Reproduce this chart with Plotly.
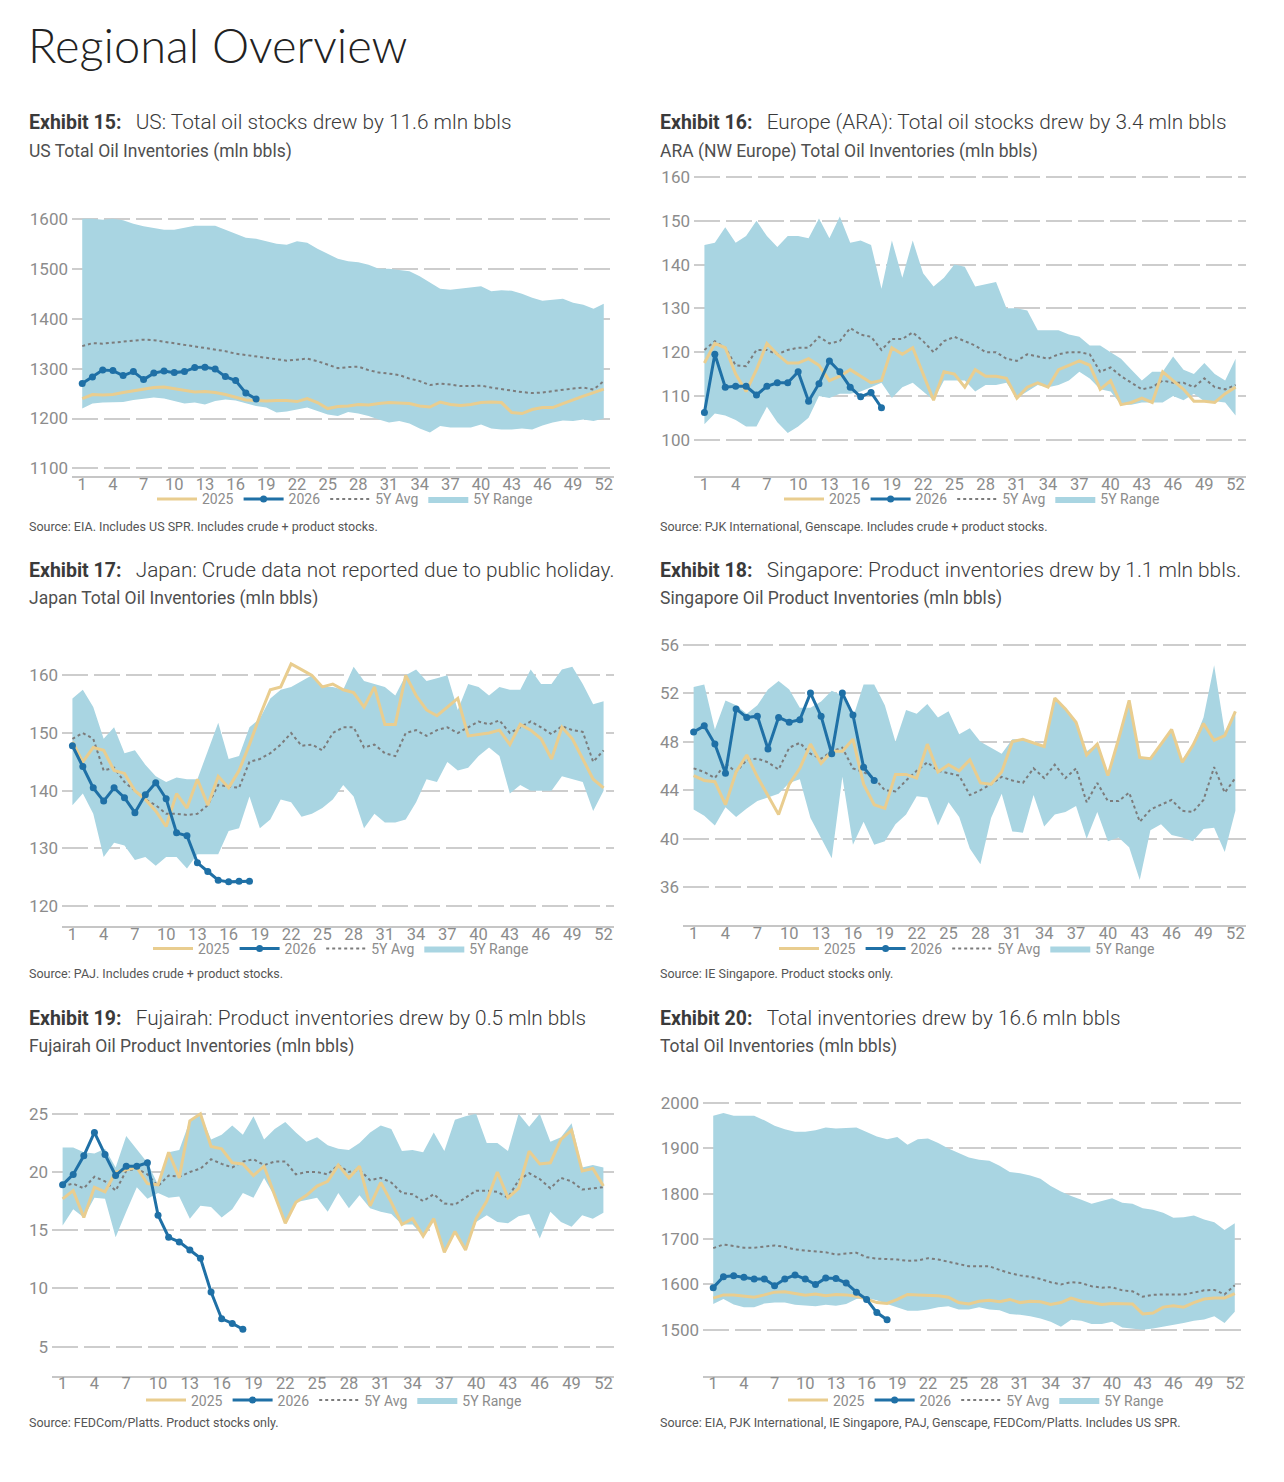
import plotly.graph_objects as go

W, H = 1284, 1482

weeks = list(range(1, 53))
weeks_2026 = list(range(1, 19))
week_ticks = list(range(1, 53, 3))

# ---------------- Exhibit 15: US ----------------
us_2025 = [1240,1248,1247,1248,1252,1255,1258,1262,1263,1260,1256,1253,1254,1252,1248,1242,1237,1236,1235,1236,
           1236,1234,1240,1232,1220,1224,1225,1228,1227,1230,1232,1231,1230,1225,1223,1233,1228,1226,1228,1232,
           1233,1232,1212,1210,1218,1222,1222,1230,1238,1245,1252,1259]
us_2026 = [1270,1283,1297,1296,1286,1294,1278,1291,1295,1292,1294,1302,1303,1299,1284,1276,1251,1239]
us_avg = [1345,1351,1350,1352,1354,1356,1358,1357,1354,1350,1347,1344,1342,1339,1335,1330,1327,1325,1322,1318,
          1316,1318,1320,1315,1308,1301,1303,1304,1297,1292,1290,1287,1280,1275,1267,1270,1268,1265,1265,1266,
          1262,1259,1255,1253,1251,1252,1255,1258,1260,1262,1258,1275]
us_max = [1600,1600,1598,1600,1597,1590,1585,1582,1578,1578,1582,1586,1586,1586,1578,1570,1562,1560,1555,1550,
          1548,1555,1552,1540,1530,1520,1515,1513,1508,1500,1500,1498,1495,1485,1472,1460,1458,1460,1462,1465,
          1455,1457,1456,1450,1442,1436,1438,1440,1432,1428,1420,1430]
us_min = [1220,1230,1232,1232,1233,1237,1240,1242,1240,1235,1230,1232,1228,1235,1238,1236,1230,1225,1222,1212,
          1214,1218,1222,1215,1208,1205,1213,1210,1205,1198,1192,1195,1190,1180,1172,1185,1182,1182,1182,1188,
          1180,1178,1178,1180,1178,1186,1192,1196,1195,1198,1195,1200]

# ---------------- Exhibit 16: Europe (ARA) ----------------
ara_2025 = [117.5,122,121,115,111,116,122,119.5,117.5,117.5,118.5,117,113.5,114.5,116,114.5,113,113.5,121,119.5,
            121,115,109,115.5,115,112,116,114.5,114.5,114,109.5,112,113,112,116,117,118,117,111.5,113.5,
            108,108.5,109.5,108.5,115.5,113.5,111.5,108.8,108.8,108.5,110.5,112]
ara_2026 = [106.2,119.5,112,112.2,112.2,110.2,112.2,113,113,115.5,108.8,112.8,118,115.5,112,109.8,110.8,107.3]
ara_avg = [120.5,122.5,121,117,116.8,120.5,120.5,119.5,120.5,121,121,123.5,122,122.5,125.5,124,123.5,120.5,123,123,
           124.5,122.5,120,122.5,123.5,122.5,121.5,120,120,118.5,118,119.5,119,118.5,119.5,120,120,119.5,115.5,116.5,
           114.5,113,111.5,112,113.5,113,113,112,114,112,111.5,112.5]
ara_max = [144.5,145,148.5,145,146.5,150,146.5,144,146.5,146.5,146,150.5,146,151,145,145.5,144.5,134.5,145.5,137,
           145.5,138,135,137,140,139.5,135,135.5,136,130,130,129.5,125,125,125,124,123.5,121.5,121.5,120,
           118.5,116,113.5,115.5,115.5,119,116,115,117.5,115,113.5,118.5]
ara_min = [103.5,106,105.5,104.5,103,103,107.5,104,101.5,103,105,110,109.5,110.5,110.5,111,112,113,109.5,112,
           113,111,109,113.5,113.5,113.5,111,112.5,112.5,113,109.5,111,112.5,112,112.5,113.5,115.5,114,111.5,111,
           108,108,108.5,108.5,108.5,110,109,110.5,108.8,108.8,108.5,105.5]

# ---------------- Exhibit 17: Japan ----------------
jp_2025 = [148.5,145,147.5,147,143.5,143,140,138.5,136.5,133.8,139.5,137,142,137.5,142.5,140.5,143.5,148,153,157.5,
           158,162,161,160,158,158.5,157.5,157,154.5,158,151.5,151.5,160,156.5,154,153,154.5,156,149.5,149.8,
           150,150.5,148,151.5,150.5,149,145.5,151,149,145.5,142,140.5]
jp_2026 = [147.8,144.2,140.5,138.2,140.5,138.8,136.2,139.3,141.4,138.6,132.7,132.2,127.5,126,124.5,124.2,124.3,124.3]
jp_avg = [149,150,149,143.5,144,141.5,140,138.5,137.5,136,136,135.8,136,137.5,141,140.8,140.5,145,145.5,146.5,
          148,150,147.8,148,147,150,151,151,147.5,148,146.5,146,150,150.5,149.5,150.5,151,150,151,152,
          151.5,152.2,150,151,152,151,149.8,151.2,150.5,150.2,145,147]
jp_max = [156,157.5,154.5,149,151,146.5,147,144.5,142.5,141.5,142.3,142,142,147,151.8,145.5,146,151,152.5,156,
          157.5,158,159,160,158,158,157.5,161.5,159,158.5,158,156.5,160,161,159,159.5,160,154,158.5,158,
          156.5,158,157.5,157.5,161,158.5,158.5,161,161.5,158.5,155,155.5]
jp_min = [137.5,139.5,136,128.5,131,130.5,128,128.5,127,128.5,128.5,126.5,129,129,129,133,133.5,139,133.5,135,
          138.5,138,135.5,136,137,138.5,141,139,133.5,136,134.5,134.5,135,138,142,141.5,145,143.5,144,146,
          147.5,146,139.5,141,140,140,140,142.5,142,141.5,136.5,140]

# ---------------- Exhibit 18: Singapore ----------------
sg_2025 = [45.2,44.8,44.7,42.8,45.5,46.9,45.1,43.5,42,44.5,45.8,47.8,46.2,47.2,47.2,48.2,44.5,42.8,42.5,45.3,
           45.3,45,47.8,45.5,46.1,45.6,46.5,44.6,44.5,45.5,48,48.2,47.9,47.6,51.6,50.7,49.6,46.9,47.8,45.2,
           48.2,51.4,46.7,46.6,47.8,49,46.3,47.7,49.5,48.1,48.5,50.5]
sg_2026 = [48.8,49.3,47.8,45.4,50.7,50,50.1,47.4,50,49.6,49.8,52,50.1,47,52,50.2,45.9,44.8]
sg_avg = [45.8,45.5,45,46.2,45.5,46.5,46.6,46.3,45.7,47.5,47.9,47,46.6,47.2,47.5,45.8,45.5,45,44,43.9,
          44.8,45.6,46.3,45.6,45.4,45.2,43.6,44,44.5,45.1,44.8,44.6,45.8,45,46.1,45,45.8,43,44.6,43.1,
          43.1,43.8,41.4,42.4,42.8,43.2,42.3,42.2,43.2,45.9,43.8,45]
sg_max = [52.5,52.7,49,51.4,51,50.3,51,52.3,53,52.3,50.8,50.8,51.3,52.2,51.8,50,52.7,52.7,51,48,
          50.6,50.3,51.1,50,50.5,48.6,49.1,48,47.5,47,48.2,48.2,47.9,47.6,51.6,50.7,49.6,47.2,47.8,45.5,
          48.2,51.4,46.8,46.6,47.8,49,46.5,47.8,50,54.3,48.8,50.5]
sg_min = [42.4,41.9,41.1,42.6,41.8,42.5,43.1,43.4,43.7,44.6,44.9,41.7,40,38.4,45.1,39.5,41.4,39.5,39.8,41.2,
          42,43.5,43.4,41.1,43,41.8,39.2,37.9,41.7,43.7,40.6,40.5,43.6,41,42,42.2,42.7,40,42.2,39.8,
          40.1,39.3,36.6,40.7,41.2,40.3,40.1,39.8,40.8,40.9,38.9,42.3]

# ---------------- Exhibit 19: Fujairah ----------------
fj_2025 = [17.7,18.4,16.1,18.7,18.3,20,20.2,20.4,19,18.9,21.7,19.5,24.4,25,22.2,22,20.8,20.7,19.7,20.5,
           18,15.6,17.4,18,18.8,19.2,20.6,19.5,20.5,17.1,19.1,17.4,15.5,16,14.5,16,13.1,14.9,13.3,16,
           17.5,20,17.8,18.6,21.8,20.7,20.8,22.8,23.6,20.1,20.3,18.8]
fj_2026 = [18.9,19.8,21.4,23.4,21.5,19.7,20.5,20.5,20.8,16.3,14.4,14.0,13.3,12.6,9.7,7.4,7.0,6.5]
fj_avg = [18.8,19,18.6,19.6,19.2,18.4,20.1,20.3,19.8,18.8,19.7,19.6,20,20.3,21.1,20.7,20.4,20.9,21.1,20.6,
          20.9,20.9,19.8,20,20,19.8,20.6,20,20.2,19.3,19.5,19.1,18.2,18.1,17.5,18.1,17.3,17.2,17.8,18.4,
          18.4,18.3,17.8,19.3,19.9,19.4,18.6,19.5,19.2,18.5,18.6,18.7]
fj_max = [22.1,22.1,21.7,21.6,22,20.4,23.1,21.9,20.8,18.9,21.7,21.9,24.4,25,22.8,23.2,24,23.2,24.8,22.8,
          23.7,24.3,23.4,22.6,23,22.3,22,21.9,22.5,23.4,24,23.7,21.8,21.9,21.7,23.4,21.8,24.5,24.8,25,
          22.5,22.5,21.8,25,23.9,25,22.6,23,24.2,20.4,20.6,20.4]
fj_min = [15.4,16.8,16.1,17.8,17.7,14.4,16.6,18.7,17.7,18.2,17.8,17.9,16,17.1,17,16.1,16.8,18.2,17.8,19.5,
          17.9,15.6,17.4,17.6,17.8,16.6,18.2,16.9,18,16.9,16.6,16.4,15.5,15.5,14.5,16,13.1,14.9,13.3,15.7,
          16.3,15.7,15.6,16.2,16.4,14.3,16.6,15.7,15.3,16.3,16,16.5]

# ---------------- Exhibit 20: Total ----------------
tot_2025 = [1570,1577,1577,1574,1572,1577,1583,1584,1580,1576,1579,1575,1578,1577,1574,1568,1560,1558,1567,1578,
            1577,1576,1575,1572,1560,1557,1563,1565,1562,1567,1560,1563,1562,1556,1560,1570,1563,1560,1556,1558,
            1558,1557,1535,1537,1550,1553,1550,1560,1568,1570,1570,1580]
tot_2026 = [1593,1617,1619,1616,1612,1612,1597,1612,1621,1612,1600,1614,1613,1603,1583,1567,1538,1522]
tot_avg = [1680,1688,1685,1681,1681,1683,1686,1683,1677,1675,1673,1671,1666,1668,1670,1660,1657,1656,1655,1652,
           1653,1658,1655,1650,1645,1640,1640,1640,1632,1625,1620,1617,1612,1605,1600,1605,1603,1596,1593,1594,
           1587,1585,1573,1577,1578,1578,1578,1582,1587,1588,1578,1598]
tot_max = [1972,1978,1972,1972,1972,1962,1950,1942,1937,1937,1940,1946,1944,1945,1946,1936,1926,1920,1925,1908,
           1920,1922,1912,1900,1890,1880,1875,1873,1862,1848,1845,1840,1833,1817,1805,1795,1787,1778,1784,1790,
           1780,1778,1768,1765,1758,1747,1748,1752,1743,1737,1720,1735]
tot_min = [1557,1568,1556,1550,1550,1558,1560,1560,1555,1553,1552,1555,1553,1557,1568,1570,1565,1557,1550,1542,
           1542,1545,1550,1552,1545,1545,1550,1545,1543,1535,1533,1530,1525,1518,1507,1522,1520,1513,1513,1518,
           1505,1502,1500,1503,1507,1510,1515,1520,1523,1530,1515,1540]

exhibits = [
    ("Exhibit 15:", "US: Total oil stocks drew by 11.6 mln bbls", "US Total Oil Inventories (mln bbls)",
     "Source: EIA. Includes US SPR. Includes crude + product stocks."),
    ("Exhibit 16:", "Europe (ARA): Total oil stocks drew by 3.4 mln bbls", "ARA (NW Europe) Total Oil Inventories (mln bbls)",
     "Source: PJK International, Genscape. Includes crude + product stocks."),
    ("Exhibit 17:", "Japan: Crude data not reported due to public holiday.", "Japan Total Oil Inventories (mln bbls)",
     "Source: PAJ. Includes crude + product stocks."),
    ("Exhibit 18:", "Singapore: Product inventories drew by 1.1 mln bbls.", "Singapore Oil Product Inventories (mln bbls)",
     "Source: IE Singapore. Product stocks only."),
    ("Exhibit 19:", "Fujairah: Product inventories drew by 0.5 mln bbls", "Fujairah Oil Product Inventories (mln bbls)",
     "Source: FEDCom/Platts. Product stocks only."),
    ("Exhibit 20:", "Total inventories drew by 16.6 mln bbls", "Total Oil Inventories (mln bbls)",
     "Source: EIA, PJK International, IE Singapore, PAJ, Genscape, FEDCom/Platts. Includes US SPR."),
]

series = [
    (us_2025, us_2026, us_avg, us_min, us_max),
    (ara_2025, ara_2026, ara_avg, ara_min, ara_max),
    (jp_2025, jp_2026, jp_avg, jp_min, jp_max),
    (sg_2025, sg_2026, sg_avg, sg_min, sg_max),
    (fj_2025, fj_2026, fj_avg, fj_min, fj_max),
    (tot_2025, tot_2026, tot_avg, tot_min, tot_max),
]

# layout (pixel boxes: x0, x1, ytop, ybottom), y ranges, y ticks, legend centre
layout_boxes = [
    dict(box=(72, 614, 210, 473), yr=(1084, 1608), yt=[1100, 1200, 1300, 1400, 1500, 1600], leg=(345, 496)),
    dict(box=(694, 1246, 168, 473), yr=(91.6, 160.9), yt=[100, 110, 120, 130, 140, 150, 160], leg=(972, 496)),
    dict(box=(62, 614, 655, 925), yr=(116.55, 163.1), yt=[120, 130, 140, 150, 160], leg=(341, 948)),
    dict(box=(683, 1246, 638, 924), yr=(32.89, 56.33), yt=[36, 40, 44, 48, 52, 56], leg=(967, 948)),
    dict(box=(52, 614, 1108, 1377), yr=(2.52, 25.5), yt=[5, 10, 15, 20, 25], leg=(334, 1402)),
    dict(box=(703, 1245, 1099, 1377), yr=(1399.1, 2008.8), yt=[1500, 1600, 1700, 1800, 1900, 2000], leg=(976, 1402)),
]
text_rows = [(117, 146, 523), (567, 596, 973), (1017, 1046, 1424)]
text_cols = [27, 658]

C25 = "#E9CD8F"
C26 = "#1F70A6"
CAVG = "#7c7c7c"
CRANGE = "#A9D5E2"
TICK = "#8c8c8c"
GRID = "#cdcdcd"

fig = go.Figure()
layout = dict(
    width=W, height=H, margin=dict(l=0, r=0, t=0, b=0),
    paper_bgcolor="white", plot_bgcolor="white", showlegend=True,
    font=dict(family="Roboto, Arial, sans-serif"),
)
annotations = []

for i, ((y25, y26, yavg, ymin, ymax), cfg) in enumerate(zip(series, layout_boxes), start=1):
    sfx = "" if i == 1 else str(i)
    xa, ya = "x" + sfx, "y" + sfx
    leg = "legend" + sfx
    fig.add_trace(go.Scatter(x=weeks, y=ymin, mode="lines", line=dict(width=0, color=CRANGE),
                             showlegend=False, hoverinfo="skip", xaxis=xa, yaxis=ya, legend=leg))
    fig.add_trace(go.Scatter(x=weeks, y=ymax, mode="lines", line=dict(width=0, color=CRANGE),
                             fill="tonexty", fillcolor=CRANGE, name="5Y Range", legendrank=4,
                             xaxis=xa, yaxis=ya, legend=leg))
    fig.add_trace(go.Scatter(x=weeks, y=yavg, mode="lines", line=dict(width=2, color=CAVG, dash="dot"),
                             name="5Y Avg", legendrank=3, xaxis=xa, yaxis=ya, legend=leg))
    fig.add_trace(go.Scatter(x=weeks, y=y25, mode="lines", line=dict(width=3, color=C25),
                             name="2025", legendrank=1, xaxis=xa, yaxis=ya, legend=leg))
    fig.add_trace(go.Scatter(x=weeks_2026, y=y26, mode="lines+markers", line=dict(width=3, color=C26),
                             marker=dict(size=7, color=C26), name="2026", legendrank=2,
                             xaxis=xa, yaxis=ya, legend=leg))

    x0, x1, yt, yb = cfg["box"]
    layout["xaxis" + sfx] = dict(
        domain=[x0 / W, x1 / W], range=[0, 53], anchor=ya, tickvals=week_ticks,
        showgrid=False, zeroline=False, showline=True, linecolor="#c6c6c6", linewidth=2,
        ticks="", tickfont=dict(size=16.5, color=TICK), ticklabelstandoff=-8, fixedrange=True,
    )
    layout["yaxis" + sfx] = dict(
        domain=[1 - yb / H, 1 - yt / H], range=list(cfg["yr"]), anchor=xa, tickvals=cfg["yt"],
        showgrid=True, gridcolor=GRID, gridwidth=2, griddash="26px,6px", zeroline=False,
        showline=False, ticks="", tickfont=dict(size=17, color=TICK), ticklabelstandoff=3, fixedrange=True,
    )
    lx, ly = cfg["leg"]
    layout[leg] = dict(
        orientation="h", x=lx / W, y=1 - ly / H, xanchor="center", yanchor="middle",
        font=dict(size=14, color=TICK), bgcolor="rgba(0,0,0,0)", traceorder="normal",
        itemwidth=40, tracegroupgap=0,
    )

    # texts
    ex, head, sub, src = exhibits[i - 1]
    row = text_rows[(i - 1) // 2]
    col = text_cols[(i - 1) % 2]
    annotations.append(dict(x=col / W, y=1 - row[0] / H, xref="paper", yref="paper", xanchor="left",
                            yanchor="middle", showarrow=False,
                            text="<b>" + ex + "</b>&nbsp;&nbsp;&nbsp;<span style=\"font-size:20.8px\">" + head + "</span>",
                            font=dict(size=19.5, color="#3a3a3a", weight=300)))
    annotations.append(dict(x=col / W, y=1 - row[1] / H, xref="paper", yref="paper", xanchor="left",
                            yanchor="middle", showarrow=False, text=sub,
                            font=dict(size=17.5, color="#4f4f4f")))
    annotations.append(dict(x=col / W, y=1 - row[2] / H, xref="paper", yref="paper", xanchor="left",
                            yanchor="middle", showarrow=False, text=src,
                            font=dict(size=12.5, color="#555555")))

annotations.append(dict(x=26 / W, y=1 - 39 / H, xref="paper", yref="paper", xanchor="left",
                        yanchor="middle", showarrow=False, text="Regional Overview",
                        font=dict(family="Lato, sans-serif", size=47, color="#222222", weight=300)))
layout["annotations"] = annotations
fig.update_layout(**layout)
fig.write_html("out.html")
